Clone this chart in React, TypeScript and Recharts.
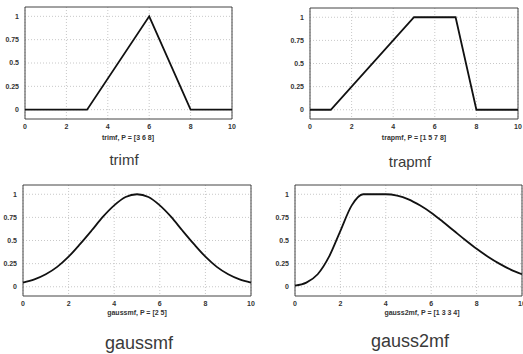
import React from "react";
import { LineChart, Line, XAxis, YAxis, CartesianGrid, ReferenceArea } from "recharts";

const triX = [0, 3, 6, 8, 10];
const triY = [0, 0, 1, 0, 0];
const trapX = [0, 1, 5, 7, 8, 10];
const trapY = [0, 0, 1, 1, 0, 0];
const gaussX = [0, 0.5, 1, 1.5, 2, 2.5, 3, 3.5, 4, 4.5, 5, 5.5, 6, 6.5, 7, 7.5, 8, 8.5, 9, 9.5, 10];
const gaussY = [0.045, 0.08, 0.135, 0.215, 0.325, 0.46, 0.605, 0.755, 0.88, 0.97, 1, 0.97, 0.88, 0.755, 0.605, 0.46, 0.325, 0.215, 0.135, 0.08, 0.045];
const gauss2X = [0, 0.5, 1, 1.5, 2, 2.5, 3, 3.5, 4, 4.5, 5, 5.5, 6, 6.5, 7, 7.5, 8, 8.5, 9, 9.5, 10];
const gauss2Y = [0.012, 0.045, 0.135, 0.325, 0.605, 0.88, 1, 1, 1, 0.985, 0.945, 0.88, 0.8, 0.705, 0.605, 0.505, 0.41, 0.325, 0.25, 0.185, 0.135];
const xTicks = [0, 2, 4, 6, 8, 10];
const yTicks = [0, 0.25, 0.5, 0.75, 1];
const xLabels = ["trimf, P = [3 6 8]", "trapmf, P = [1 5 7 8]", "gaussmf, P = [2 5]", "gauss2mf, P = [1 3 3 4]"];
const titles = ["trimf", "trapmf", "gaussmf", "gauss2mf"];

const toRows = (xs: number[], ys: number[]) => xs.map((x, i) => ({ x, y: ys[i] }));

const tickStyle = { fontSize: 7, fontWeight: 700, fill: "#333", fontFamily: "Liberation Sans, Arial, sans-serif" };

type PanelProps = {
  data: { x: number; y: number }[];
  left: number;
  top: number;
  width: number;
  height: number;
  margin: { top: number; right: number; bottom: number; left: number };
  curve: "linear" | "monotone";
};

function Panel({ data, left, top, width, height, margin, curve }: PanelProps) {
  return (
    <div style={{ position: "absolute", left, top }}>
      <LineChart width={width} height={height} data={data} margin={margin}>
        <CartesianGrid stroke="#c8c8c8" strokeDasharray="1 2" horizontalValues={yTicks} verticalValues={xTicks} />
        <XAxis
          dataKey="x"
          type="number"
          domain={[0, 10]}
          ticks={xTicks}
          height={16}
          tickSize={0}
          tickMargin={5}
          axisLine={false}
          tick={tickStyle}
          interval={0}
        />
        <YAxis
          type="number"
          domain={[-0.1, 1.1]}
          ticks={yTicks}
          width={20}
          tickSize={0}
          tickMargin={6}
          axisLine={false}
          tick={tickStyle}
          interval={0}
        />
        <ReferenceArea x1={0} x2={10} y1={-0.1} y2={1.1} fill="none" stroke="#444" strokeWidth={1} ifOverflow="extendDomain" />
        <Line dataKey="y" type={curve} stroke="#111" strokeWidth={1.8} dot={false} isAnimationActive={false} />
      </LineChart>
    </div>
  );
}

const labelBase: React.CSSProperties = {
  position: "absolute",
  fontFamily: "Liberation Sans, Arial, sans-serif",
  whiteSpace: "nowrap",
  transform: "translate(-50%, -50%)",
  lineHeight: 1,
};

const titleBase: React.CSSProperties = {
  position: "absolute",
  fontFamily: "Liberation Sans, Arial, sans-serif",
  whiteSpace: "nowrap",
  transform: "translateX(-50%)",
  lineHeight: 1,
  color: "#3a3a3a",
};

export default function App() {
  return (
    <div style={{ position: "absolute", left: 0, top: 0, width: 523, height: 354, background: "#fff", overflow: "hidden" }}>
      <Panel data={toRows(triX, triY)} left={0} top={0} width={262} height={175}
        margin={{ top: 7, right: 30, bottom: 40, left: 5 }} curve="linear" />
      <Panel data={toRows(trapX, trapY)} left={262} top={0} width={261} height={175}
        margin={{ top: 8, right: 5, bottom: 40, left: 28 }} curve="linear" />
      <Panel data={toRows(gaussX, gaussY)} left={0} top={175} width={262} height={179}
        margin={{ top: 10, right: 11, bottom: 42, left: 3 }} curve="monotone" />
      <Panel data={toRows(gauss2X, gauss2Y)} left={262} top={175} width={261} height={179}
        margin={{ top: 10, right: 1, bottom: 42, left: 13 }} curve="monotone" />

      <div style={{ ...labelBase, left: 128, top: 137, fontSize: 7, fontWeight: 700, color: "#333" }}>{xLabels[0]}</div>
      <div style={{ ...labelBase, left: 414, top: 137, fontSize: 7, fontWeight: 700, color: "#333" }}>{xLabels[1]}</div>
      <div style={{ ...labelBase, left: 137, top: 312, fontSize: 7, fontWeight: 700, color: "#333" }}>{xLabels[2]}</div>
      <div style={{ ...labelBase, left: 422, top: 312, fontSize: 7, fontWeight: 700, color: "#333" }}>{xLabels[3]}</div>

      <div style={{ ...titleBase, left: 124, top: 152, fontSize: 15 }}>{titles[0]}</div>
      <div style={{ ...titleBase, left: 410, top: 154, fontSize: 15 }}>{titles[1]}</div>
      <div style={{ ...titleBase, left: 139, top: 334, fontSize: 18 }}>{titles[2]}</div>
      <div style={{ ...titleBase, left: 410, top: 332, fontSize: 18 }}>{titles[3]}</div>
    </div>
  );
}
